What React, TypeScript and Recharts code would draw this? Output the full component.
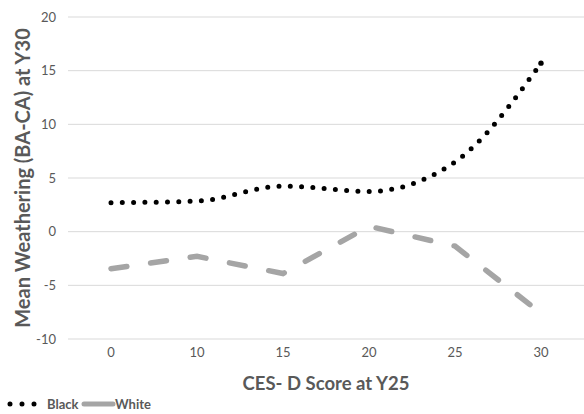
import React from "react";
import { LineChart, Line, XAxis, YAxis, CartesianGrid, Legend } from "recharts";

const categories = ["0", "10", "15", "20", "25", "30"];
const blackValues = [2.7, 2.85, 4.25, 3.75, 6.5, 15.7];
const whiteValues = [-3.45, -2.3, -3.9, 0.5, -1.35, -7.6];
const yTicks = [-10, -5, 0, 5, 10, 15, 20];

const data = categories.map((c, i) => ({ cat: c, Black: blackValues[i], White: whiteValues[i] }));

const FONT = "Lato, 'Open Sans', sans-serif";
const GREY = "#595959";

const YLabel = (props: any) => {
  const vb = props.viewBox || {};
  const cx = 22;
  const cy = vb.y + vb.height / 2;
  return (
    <text
      x={cx}
      y={cy}
      transform={`rotate(-90 ${cx} ${cy})`}
      textAnchor="middle"
      dominantBaseline="central"
      fill={GREY}
      fontFamily={FONT}
      fontWeight={700}
      fontSize={20}
    >
      Mean Weathering (BA-CA) at Y30
    </text>
  );
};

const XLabel = (props: any) => {
  const vb = props.viewBox || {};
  const cx = vb.x + vb.width / 2;
  return (
    <text
      x={cx}
      y={383}
      textAnchor="middle"
      dominantBaseline="central"
      fill={GREY}
      fontFamily={FONT}
      fontWeight={700}
      fontSize={18.5}
    >
      CES- D Score at Y25
    </text>
  );
};

const LegendContent = () => (
  <svg width={200} height={20} style={{ display: "block" }}>
    <line x1={10} y1={10} x2={40} y2={10} stroke="#000" strokeWidth={5} strokeLinecap="round" strokeDasharray="0 12" />
    <text x={47} y={10} dominantBaseline="central" fill={GREY} fontFamily={FONT} fontWeight={700} fontSize={13}>
      Black
    </text>
    <line x1={84} y1={10} x2={113} y2={10} stroke="#A5A5A5" strokeWidth={5} strokeLinecap="round" />
    <text x={115} y={10} dominantBaseline="central" fill={GREY} fontFamily={FONT} fontWeight={700} fontSize={13}>
      White
    </text>
  </svg>
);

const EndDot = (props: any) => {
  const { cx, cy, index } = props;
  if (index !== categories.length - 1 || cx == null || cy == null) return <g key={`d${index}`} />;
  return <circle key={`d${index}`} cx={cx} cy={cy} r={2.7} fill="#000" />;
};

export default function App() {
  return (
    <div style={{ position: "absolute", left: 0, top: 0, width: 584, height: 414, background: "#fff" }}>
      <LineChart width={584} height={414} data={data} margin={{ top: 17, right: 0, left: 0, bottom: 0 }}>
        <CartesianGrid vertical={false} stroke="#D9D9D9" strokeWidth={1} />
        <XAxis
          dataKey="cat"
          type="category"
          axisLine={false}
          tickLine={false}
          height={55}
          padding={{ left: 43, right: 43 }}
          tick={{ fill: GREY, fontSize: 13, fontFamily: FONT }}
          tickMargin={3}
          label={<XLabel />}
        />
        <YAxis
          type="number"
          domain={[-10, 20]}
          ticks={yTicks}
          width={68}
          axisLine={false}
          tickLine={false}
          tickMargin={6}
          tick={{ fill: GREY, fontSize: 13, fontFamily: FONT }}
          label={<YLabel />}
        />
        <Legend verticalAlign="bottom" align="left" height={20} content={<LegendContent />} wrapperStyle={{ left: 0, bottom: 0 }} />
        <Line
          type="monotone"
          dataKey="Black"
          stroke="#000"
          strokeWidth={5}
          strokeLinecap="round"
          strokeDasharray="0 11.3"
          dot={<EndDot />}
          activeDot={false}
          isAnimationActive={false}
        />
        <Line
          type="linear"
          dataKey="White"
          stroke="#A5A5A5"
          strokeWidth={5.5}
          strokeLinecap="round"
          strokeDasharray="16 24"
          dot={false}
          activeDot={false}
          isAnimationActive={false}
        />
      </LineChart>
    </div>
  );
}
